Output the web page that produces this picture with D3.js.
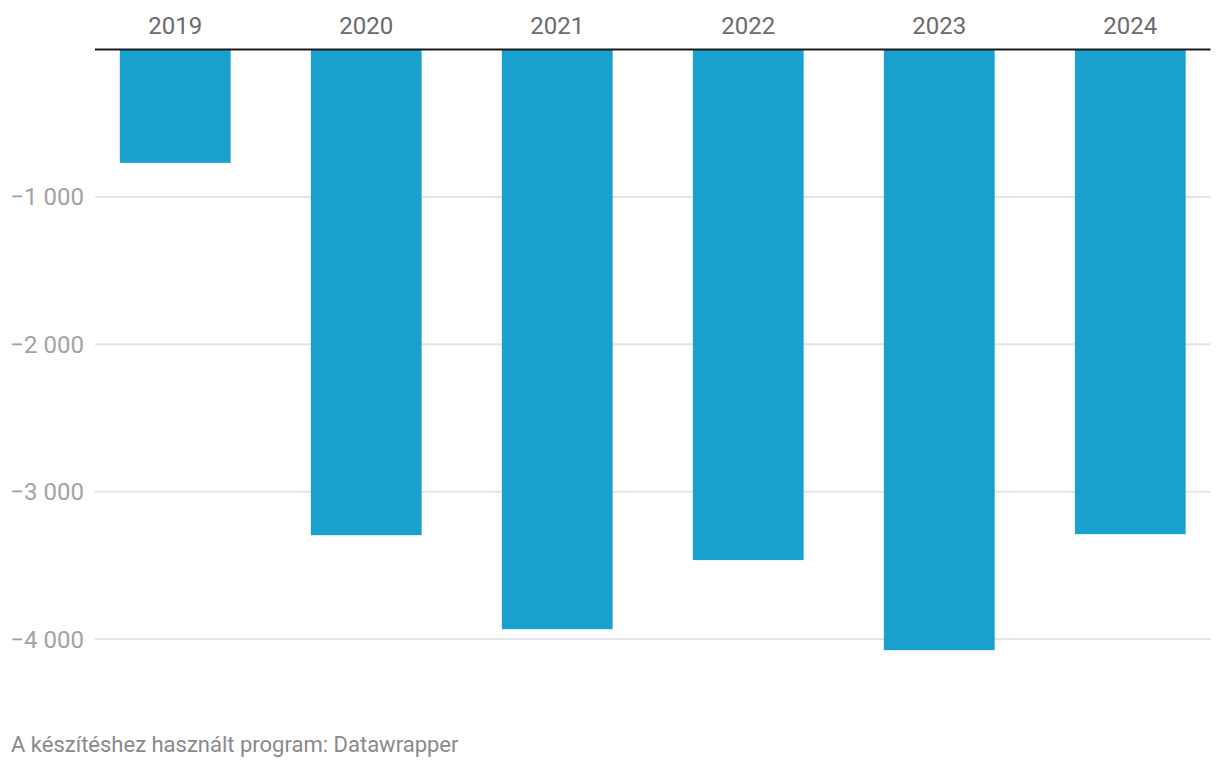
<!DOCTYPE html>
<html>
<head>
<meta charset="utf-8">
<script src="https://cdn.jsdelivr.net/npm/d3@7"></script>
<style>
  html, body { margin: 0; padding: 0; background: #fff; }
  svg { display: block; font-family: Roboto, "Noto Sans", sans-serif; }
</style>
</head>
<body>
<svg id="chart" width="1220" height="770"></svg>
<script>
const years = ["2019", "2020", "2021", "2022", "2023", "2024"];
const values = [-769, -3295, -3933, -3464, -4075, -3288];
const tickValues = [-1000, -2000, -3000, -4000];
const sourceText = "A készítéshez használt program: Datawrapper";

const svg = d3.select("#chart");
const plotLeft = 95, plotRight = 1210.5, plotTop = 49.5;

const x = d3.scaleBand().domain(years).range([plotLeft, plotRight]).paddingInner(0.42).paddingOuter(0.13);
const y = d3.scaleLinear().domain([0, -4000]).range([plotTop, plotTop + 4 * 147.4]);

const fmt = v => (v < 0 ? "\u2212" : "") + d3.format(",")(Math.abs(v)).replace(/,/g, " ");

// gridlines
svg.append("g").selectAll("line").data(tickValues).join("line")
  .attr("x1", plotLeft).attr("x2", plotRight)
  .attr("y1", d => y(d)).attr("y2", d => y(d))
  .attr("stroke", "#e4e4e4").attr("stroke-width", 2);

// tick labels
svg.append("g").selectAll("text").data(tickValues).join("text")
  .attr("x", 84).attr("y", d => y(d) + 8.5)
  .attr("text-anchor", "end")
  .attr("font-size", 24)
  .attr("fill", "#a3a3a3")
  .text(fmt);

// bars
svg.append("g").selectAll("rect").data(years).join("rect")
  .attr("x", d => x(d))
  .attr("width", x.bandwidth())
  .attr("y", y(0))
  .attr("height", (d, i) => y(values[i]) - y(0))
  .attr("fill", "#18a1cd");

// zero line
svg.append("line")
  .attr("x1", plotLeft).attr("x2", plotRight)
  .attr("y1", y(0)).attr("y2", y(0))
  .attr("stroke", "#1a1a1a").attr("stroke-width", 2);

// year labels
svg.append("g").selectAll("text").data(years).join("text")
  .attr("x", d => x(d) + x.bandwidth() / 2)
  .attr("y", 34.3)
  .attr("text-anchor", "middle")
  .attr("font-size", 24)
  .attr("fill", "#6b6b6b")
  .text(d => d);

// footer
svg.append("text")
  .attr("x", 11).attr("y", 752)
  .attr("font-size", 22)
  .attr("fill", "#8a8a8a")
  .text(sourceText);
</script>
</body>
</html>
